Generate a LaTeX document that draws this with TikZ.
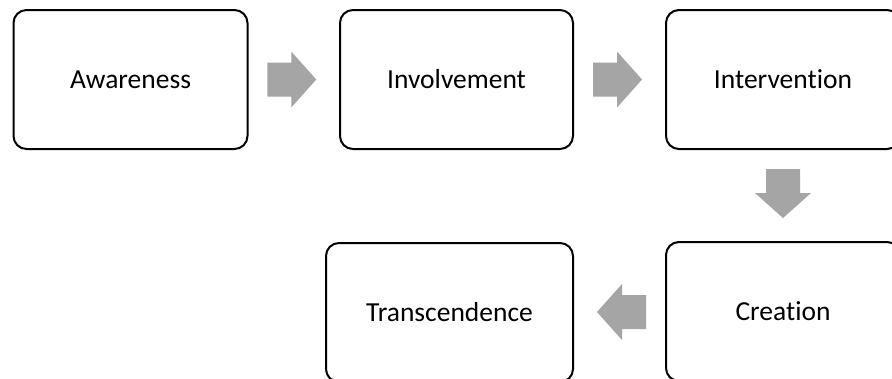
\documentclass[tikz,border=0pt]{standalone}
\usepackage{fontspec}
\setmainfont{Carlito}[Ligatures={NoCommon}]
\usetikzlibrary{calc}
\definecolor{arrowgray}{HTML}{A5A5A5}
\tikzset{
  stage/.style={draw=black, line width=2pt, fill=white, rounded corners=13pt,
    minimum height=139pt, inner sep=0pt,
    font=\fontsize{27.5}{32}\selectfont},
  blockarrow/.pic={
    \fill[arrowgray] (-25,-17) -- (-1,-17) -- (-1,-28) -- (24,0)
      -- (-1,28) -- (-1,17) -- (-25,17) -- cycle;
  }
}
\begin{document}
\begin{tikzpicture}[x=1pt, y=-1pt]
  \clip (0,0) rectangle (892,378);
  \fill[white] (0,0) rectangle (892,378);

  % process stages
  \node[stage, minimum width=234pt] (aw) at (130.5,79.5) {Awareness};
  \node[stage, minimum width=233pt] (inv) at (456.5,79.5) {Involvement};
  \node[stage, minimum width=234pt] (intv) at (783,79.5) {Intervention};
  \node[stage, minimum width=234pt] (cr) at (783,311.5) {Creation};
  \node[stage, minimum width=247pt] (tr) at (449.5,312.5) {Transcendence};

  % block arrows between consecutive stages
  \path ($(aw.east)!0.5!(inv.west)$) ++(-1.5,0) pic {blockarrow};
  \path ($(inv.east)!0.5!(intv.west)$) ++(-1.5,0) pic {blockarrow};
  \path ($(intv.south)!0.5!(cr.north)$) ++(0,-1.5) pic[rotate=-90] {blockarrow};
  \path ($(cr.west)!0.5!(tr.east)$) ++(1.5,0) pic[rotate=180] {blockarrow};
\end{tikzpicture}
\end{document}
